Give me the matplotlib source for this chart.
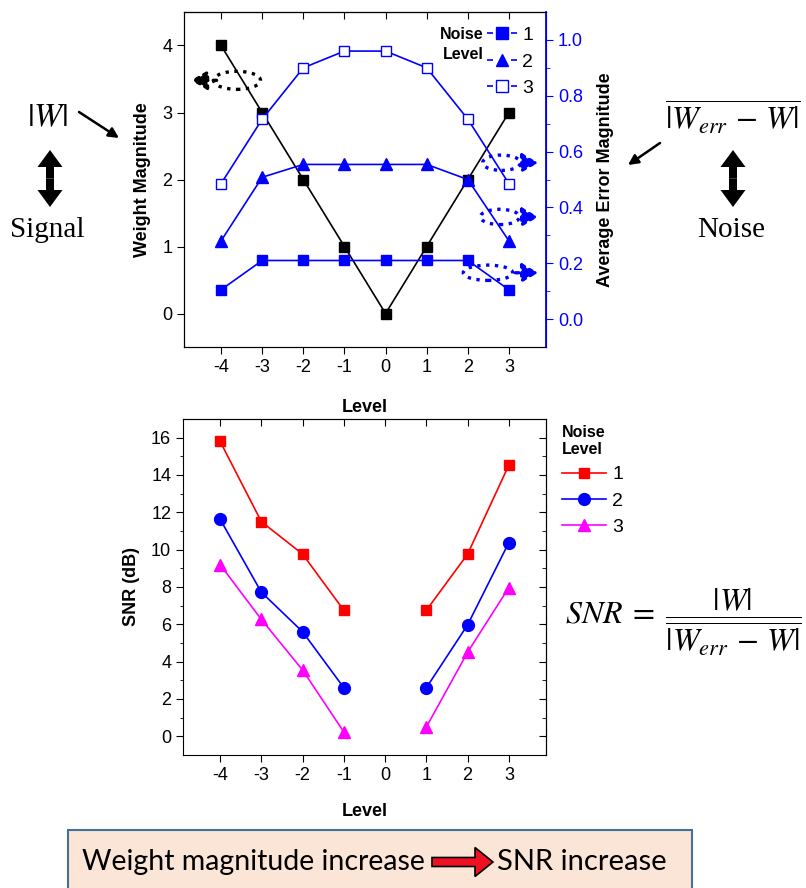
import numpy as np
import matplotlib.pyplot as plt
from matplotlib.lines import Line2D
from matplotlib.patches import Ellipse, Rectangle, FancyArrow

plt.rcParams['font.family'] = ['Liberation Sans', 'DejaVu Sans']
plt.rcParams['mathtext.fontset'] = 'stix'
plt.rcParams['axes.unicode_minus'] = False

# data
levels = [-4, -3, -2, -1, 0, 1, 2, 3]
weight_mag = [4, 3, 2, 1, 0, 1, 2, 3]
err_n1 = [0.105, 0.21, 0.21, 0.21, 0.21, 0.21, 0.21, 0.105]
err_n2 = [0.28, 0.508, 0.554, 0.554, 0.554, 0.554, 0.50, 0.28]
err_n3 = [0.485, 0.716, 0.90, 0.96, 0.96, 0.90, 0.716, 0.485]

snr_levels = [-4, -3, -2, -1, 1, 2, 3]
snr_n1 = [15.8, 11.5, 9.76, 6.75, 6.75, 9.76, 14.53]
snr_n2 = [11.63, 7.72, 5.6, 2.6, 2.6, 5.97, 10.38]
snr_n3 = [9.2, 6.26, 3.55, 0.23, 0.5, 4.5, 7.97]
noise_labels = ['1', '2', '3']

fig = plt.figure(figsize=(8.06, 8.88), dpi=100)

# ---- top plot
ax = fig.add_axes([0.2283, 0.6092, 0.4491, 0.3773])
ax.plot(levels, weight_mag, color='black', marker='s', ms=7, lw=1.2)
ax.set_xlim(-4.9, 3.9)
ax.set_ylim(-0.5, 4.5)
ax.set_xticks(levels)
ax.set_yticks([0, 1, 2, 3, 4])
ax.tick_params(labelsize=13, direction='out', length=5)
ax.set_xlabel('Level', fontsize=13, fontweight='bold', labelpad=17)
ax.set_ylabel('Weight Magnitude', fontsize=13, fontweight='bold', labelpad=8)
top = ax.secondary_xaxis('top')
top.set_xticks(levels)
top.tick_params(direction='in', length=5, labeltop=False)

ax2 = ax.twinx()
ax2.plot(levels, err_n1, color='blue', marker='s', ms=7.5, lw=1.2)
ax2.plot(levels, err_n2, color='blue', marker='^', ms=8.5, lw=1.2)
ax2.plot(levels, err_n3, color='blue', marker='s', ms=7.5, mfc='white', lw=1.2)
ax2.set_ylim(-0.1, 1.1)
ax2.set_yticks([0, 0.2, 0.4, 0.6, 0.8, 1.0])
ax2.set_yticks(np.arange(0.1, 1.1, 0.2), minor=True)
ax2.yaxis.set_major_formatter(plt.FormatStrFormatter('%.1f'))
ax2.tick_params(axis='y', colors='blue', labelsize=13, length=5)
ax2.tick_params(axis='y', which='minor', colors='blue', length=3)
ax2.spines['right'].set_color('blue')
ax2.spines['right'].set_linewidth(1.3)
ax2.set_ylabel('Average Error Magnitude', fontsize=13, fontweight='bold', labelpad=10)

hd = []
for mk, fc in [('s', 'blue'), ('^', 'blue'), ('s', 'white')]:
    hd.append(Line2D([], [], color='blue', marker=mk, mfc=fc, ms=8,
                     lw=1.2, dashes=(3.6, 10.8)))
leg = ax2.legend(hd, noise_labels, loc='upper right', bbox_to_anchor=(1.005, 1.0),
                 frameon=False, fontsize=14, handlelength=1.5, handletextpad=0.3,
                 labelspacing=0.45, borderaxespad=0.35)
ax2.text(0.827, 0.955, 'Noise\nLevel', transform=ax2.transAxes, ha='right', va='top',
         fontsize=11.5, fontweight='bold', linespacing=1.45)

# dotted ellipse arrows
ax.add_patch(Ellipse((-3.61, 3.48), 1.14, 0.27, fill=False, ls=':', lw=2.4, ec='black'))
ax.annotate('', xy=(-4.8, 3.48), xytext=(-4.04, 3.48),
            arrowprops=dict(arrowstyle='-|>,head_width=0.35,head_length=0.6', ls=':',
                            lw=2.4, color='black', mutation_scale=16))
for cx, cy, w in [(2.82, 0.56, 0.92), (2.78, 0.366, 0.95), (2.49, 0.166, 1.2)]:
    ax2.add_patch(Ellipse((cx, cy), w, 0.055, fill=False, ls=':', lw=2.4, ec='blue'))
    ax2.annotate('', xy=(3.78, cy), xytext=(cx + w / 2, cy),
                 arrowprops=dict(arrowstyle='-|>,head_width=0.35,head_length=0.6', ls=':',
                                 lw=2.4, color='blue', mutation_scale=16))

# ---- bottom plot
bx = fig.add_axes([0.227, 0.1498, 0.4504, 0.3784])
bx.plot(snr_levels[:4], snr_n1[:4], color='red', marker='s', ms=7.5, lw=1.2)
bx.plot(snr_levels[4:], snr_n1[4:], color='red', marker='s', ms=7.5, lw=1.2)
bx.plot(snr_levels[:4], snr_n2[:4], color='blue', marker='o', ms=8.5, lw=1.2)
bx.plot(snr_levels[4:], snr_n2[4:], color='blue', marker='o', ms=8.5, lw=1.2)
bx.plot(snr_levels[:4], snr_n3[:4], color='magenta', marker='^', ms=9, lw=1.2)
bx.plot(snr_levels[4:], snr_n3[4:], color='magenta', marker='^', ms=9, lw=1.2)
bx.set_xlim(-4.9, 3.9)
bx.set_ylim(-1, 17)
bx.set_xticks(levels)
bx.set_yticks(np.arange(0, 17, 2))
bx.set_yticks(np.arange(1, 17, 2), minor=True)
bx.tick_params(labelsize=13, direction='out', length=5)
bx.tick_params(axis='y', which='minor', direction='out', length=2.5)
bx.set_xlabel('Level', fontsize=13, fontweight='bold', labelpad=14)
bx.set_ylabel('SNR (dB)', fontsize=13, fontweight='bold', labelpad=8)
btop = bx.secondary_xaxis('top')
btop.set_xticks(levels)
btop.tick_params(direction='in', length=5, labeltop=False)
bright = bx.secondary_yaxis('right')
bright.set_yticks(np.arange(0, 17, 2))
bright.set_yticks(np.arange(1, 17, 2), minor=True)
bright.tick_params(direction='in', length=5, labelright=False)
bright.tick_params(which='minor', direction='in', length=3)

bh = [Line2D([], [], color='red', marker='s', ms=7.5, lw=1.2),
      Line2D([], [], color='blue', marker='o', ms=8.5, lw=1.2),
      Line2D([], [], color='magenta', marker='^', ms=9, lw=1.2)]
bleg = bx.legend(bh, noise_labels, loc='upper left', bbox_to_anchor=(0.995, 1.035),
                 frameon=False, fontsize=14, handlelength=2.3, handletextpad=0.3,
                 labelspacing=0.45, title='Noise\nLevel', alignment='left',
                 title_fontproperties={'weight': 'bold', 'size': 11.5})

# ---- overlay in pixel coords for the notes
ov = fig.add_axes([0, 0, 1, 1])
ov.set_xlim(0, 806)
ov.set_ylim(888, 0)
ov.axis('off')


def double_arrow(x, y0, y1):
    ym = (y0 + y1) / 2
    for yt in (y0, y1):
        ov.add_patch(FancyArrow(x, ym, 0, yt - ym, width=8, head_width=25, head_length=17,
                                length_includes_head=True, fc='black', ec='black', lw=0))


ov.text(47, 118, r'$|W|$', fontsize=24, ha='center', va='center')
ov.text(47, 230, 'Signal', fontsize=21, family='Liberation Serif', ha='center', va='center')
double_arrow(50, 150, 207)
ov.annotate('', xy=(119, 138), xytext=(79, 112),
            arrowprops=dict(arrowstyle='-|>,head_width=0.3,head_length=0.6',
                            lw=1.8, color='black', shrinkA=0, shrinkB=0))

ov.text(733, 118, r'$\overline{|W_{err}\,-\,W|}$', fontsize=23, ha='center', va='center')
ov.text(731, 230, 'Noise', fontsize=21, family='Liberation Serif', ha='center', va='center')
double_arrow(733, 150, 207)
ov.annotate('', xy=(628, 165), xytext=(660, 143),
            arrowprops=dict(arrowstyle='-|>,head_width=0.3,head_length=0.6',
                            lw=1.8, color='black', shrinkA=0, shrinkB=0))

ov.text(565, 622, r'$SNR\;=\;\dfrac{|W|}{\overline{|W_{err}\,-\,W|}}$', fontsize=23,
        ha='left', va='center')

# bottom box
ov.add_patch(Rectangle((68, 830), 624, 70, fc='#FBE5D6', ec='#41719C', lw=1.5))
ov.text(82, 862, 'Weight magnitude increase', fontsize=20.5, family='Lato',
        ha='left', va='center')
ov.add_patch(FancyArrow(432, 862, 61, 0, width=9, head_width=29, head_length=18,
                        length_includes_head=True, fc='#EE1122', ec='black', lw=1.2))
ov.text(497, 862, 'SNR increase', fontsize=21, family='Lato',
        ha='left', va='center')

fig.savefig('out.png', dpi=100)
